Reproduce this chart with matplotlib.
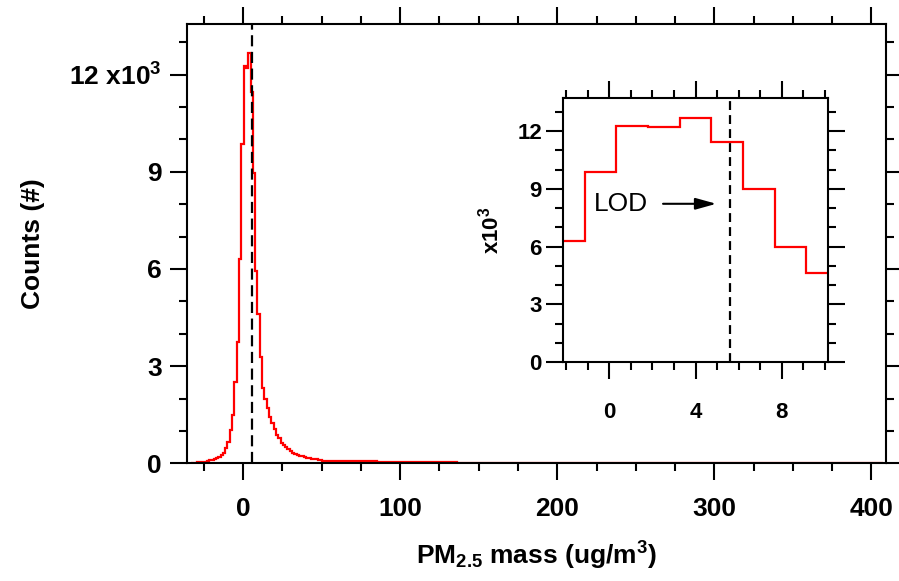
import numpy as np
import matplotlib
matplotlib.use("Agg")
import matplotlib.pyplot as plt
from matplotlib.ticker import MultipleLocator

plt.rcParams['font.family'] = ['Liberation Sans', 'DejaVu Sans']
plt.rcParams['mathtext.default'] = 'regular'

# histogram of PM2.5 mass, counts in thousands
bin_start = -33.49
bin_width = 1.47
core_counts = [0.02, 0.02, 0.02, 0.03, 0.03, 0.04, 0.05, 0.07, 0.09, 0.11, 0.13,
               0.15, 0.19, 0.26, 0.33, 0.46, 0.67, 1.03, 1.49, 2.52, 3.76, 6.30,
               9.86, 12.26, 12.19, 12.67, 11.45, 8.97, 5.95, 4.60,
               3.29, 2.32, 2.00, 1.70, 1.44, 1.24, 1.05, 0.87, 0.77, 0.64, 0.57,
               0.49, 0.43, 0.39, 0.33, 0.29, 0.26,
               0.24, 0.21, 0.19, 0.17, 0.15, 0.14, 0.13, 0.12, 0.11, 0.10]
# coarse far tail (edges after the last core bin)
tail_edges = [58, 66, 75, 85, 95, 105, 113, 120, 128, 136, 145, 155, 165, 407.5]
tail_counts = [0.08, 0.07, 0.06, 0.06, 0.05, 0.05, 0.04, 0.05, 0.03, 0.04, 0.02, 0.01, 0.005, 0.0]

lod = 5.6
main_yticks = [0, 3, 6, 9, 12]
main_ylabels = ['0', '3', '6', '9', '12 x10$^{3}$']
inset_yticks = [0, 3, 6, 9, 12]
inset_xticks = [0, 4, 8]

edges = list(bin_start + bin_width * np.arange(len(core_counts) + 1)) + tail_edges
counts = core_counts + tail_counts

fig = plt.figure(figsize=(8.99, 5.81), dpi=100)
ax = fig.add_axes([0.2077, 0.2026, 0.7783, 0.7554])

ax.stairs(counts, edges, baseline=None, color='red', lw=1.6)
ax.axvline(lod, color='k', lw=1.6, ls=(0, (5, 2.5)))
ax.set_xlim(-35.9, 409.5)
ax.set_ylim(0, 13.55)
ax.xaxis.set_major_locator(MultipleLocator(100))
ax.xaxis.set_minor_locator(MultipleLocator(25))
ax.set_yticks(main_yticks)
ax.set_yticklabels(main_ylabels)
ax.yaxis.set_minor_locator(MultipleLocator(1))

def style(a, fs, xpad, ypad):
    for s in a.spines.values():
        s.set_linewidth(1.5)
    a.tick_params(which='both', direction='out', top=True, right=True, width=1.5)
    a.tick_params(which='major', length=12)
    a.tick_params(which='minor', length=6)
    a.tick_params(axis='x', labelsize=fs, pad=xpad)
    a.tick_params(axis='y', labelsize=fs, pad=ypad)
    for lab in a.get_xticklabels() + a.get_yticklabels():
        lab.set_fontweight('bold')

style(ax, 19, 12, 6)
ax.set_xlabel('PM$_{2.5}$ mass (ug/m$^{3}$)', fontsize=19, fontweight='bold', labelpad=14)
ax.set_ylabel('Counts (#)', fontsize=19, fontweight='bold')
ax.yaxis.set_label_coords(-0.203, 0.5)

# inset
ax_in = fig.add_axes([0.626, 0.3769, 0.2955, 0.4539])
ax_in.stairs(counts, edges, baseline=None, color='red', lw=1.6)
ax_in.axvline(lod, color='k', lw=1.6, ls=(0, (4, 2.3)))
ax_in.set_xlim(-2.16, 10.16)
ax_in.set_ylim(0, 13.7)
ax_in.set_xticks(inset_xticks)
ax_in.xaxis.set_minor_locator(MultipleLocator(1))
ax_in.set_yticks(inset_yticks)
ax_in.yaxis.set_minor_locator(MultipleLocator(1))
style(ax_in, 16, 17, 3)
ax_in.set_ylabel('x10$^{3}$', fontsize=16, fontweight='bold', labelpad=10)

ax_in.text(-0.72, 8.2, 'LOD', fontsize=19, va='center', ha='left')
ax_in.annotate('', xy=(4.96, 8.22), xytext=(2.49, 8.22),
               arrowprops=dict(arrowstyle='-|>,head_length=0.9,head_width=0.25',
                               color='k', lw=1.5, mutation_scale=14,
                               shrinkA=0, shrinkB=0))

fig.savefig('out.png', dpi=100)
